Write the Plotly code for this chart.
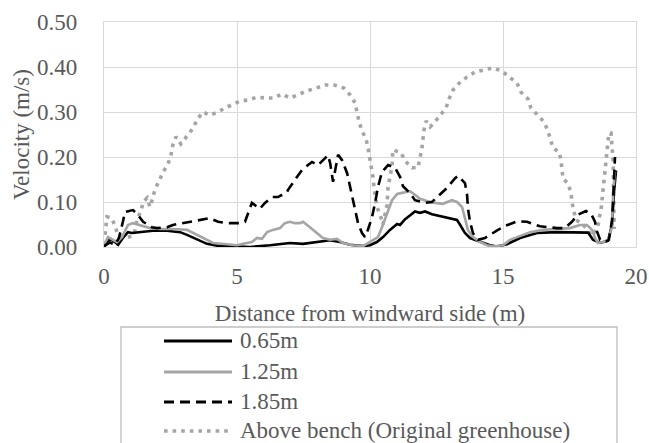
import plotly.graph_objects as go

# ---------------- data ----------------
x_065 = [0.0, 0.23, 0.41, 0.53, 0.71, 0.90, 1.05, 1.35, 1.84, 2.37, 2.86, 3.12, 3.50, 3.87, 4.25, 5.0,
         5.49, 6.24, 6.99, 7.48, 8.01, 8.50, 8.87, 9.25, 9.74, 10.0, 10.26, 10.49, 10.75, 11.02, 11.13,
         11.32, 11.50, 11.69, 11.88, 12.07, 12.33, 12.63, 13.01, 13.27, 13.38, 13.57, 13.76, 14.14,
         14.51, 14.77, 15.15, 15.64, 16.28, 17.03, 17.63, 18.20, 18.38, 18.65, 18.95, 19.10, 19.17, 19.25]
v_065 = [0.0, 0.018, 0.011, 0.005, 0.02, 0.033, 0.031, 0.033, 0.036, 0.036, 0.033, 0.027, 0.016, 0.007, 0.003, 0.001,
         0.0, 0.004, 0.009, 0.007, 0.011, 0.015, 0.011, 0.005, 0.002, 0.004, 0.011, 0.022, 0.038, 0.051, 0.049,
         0.062, 0.07, 0.079, 0.076, 0.079, 0.073, 0.069, 0.065, 0.06, 0.05, 0.031, 0.02, 0.011,
         0.004, 0.001, 0.006, 0.02, 0.031, 0.033, 0.033, 0.032, 0.016, 0.009, 0.014, 0.05, 0.12, 0.17]

x_125 = [0.0, 0.15, 0.34, 0.49, 0.68, 0.90, 1.09, 1.35, 1.73, 2.11, 2.59, 3.12, 3.50, 3.87, 4.10, 4.62, 5.0,
         5.23, 5.56, 5.75, 5.94, 6.13, 6.35, 6.62, 6.80, 6.99, 7.18, 7.37, 7.48, 7.74, 8.01, 8.23, 8.50,
         8.76, 8.98, 9.36, 9.74, 10.11, 10.30, 10.45, 10.64, 10.83, 11.02, 11.24, 11.50, 11.69, 11.88,
         12.14, 12.44, 12.74, 13.08, 13.27, 13.46, 13.57, 13.68, 13.87, 14.14, 14.40, 14.62, 15.0, 15.26,
         15.53, 16.02, 16.50, 17.03, 17.52, 17.89, 18.16, 18.35, 18.46, 18.57, 18.76, 18.95, 19.10, 19.14, 19.21]
v_125 = [0.005, 0.022, 0.016, 0.011, 0.022, 0.049, 0.053, 0.049, 0.042, 0.04, 0.04, 0.038, 0.027, 0.016, 0.009, 0.006, 0.004,
         0.007, 0.011, 0.02, 0.018, 0.033, 0.038, 0.042, 0.053, 0.056, 0.053, 0.053, 0.056, 0.044, 0.031, 0.02, 0.016,
         0.018, 0.009, 0.004, 0.002, 0.016, 0.022, 0.044, 0.076, 0.104, 0.118, 0.12, 0.124, 0.116, 0.107,
         0.102, 0.098, 0.096, 0.104, 0.1, 0.089, 0.064, 0.038, 0.022, 0.011, 0.004, 0.001, 0.004, 0.016,
         0.022, 0.033, 0.038, 0.04, 0.042, 0.049, 0.049, 0.038, 0.02, 0.009, 0.011, 0.016, 0.044, 0.12, 0.168]

x_185 = [0.0, 0.23, 0.41, 0.56, 0.71, 0.79, 1.09, 1.28, 1.47, 1.80, 1.99, 2.37, 2.59, 2.97, 3.35, 3.72, 3.98,
         4.29, 4.62, 5.11, 5.30, 5.49, 5.56, 5.86, 6.05, 6.32, 6.54, 6.88, 6.92, 7.26, 7.44, 7.67, 7.82,
         8.05, 8.23, 8.42, 8.50, 8.61, 8.80, 8.95, 9.14, 9.25, 9.36, 9.44, 9.55, 9.70, 9.81, 9.92, 10.08,
         10.19, 10.30, 10.45, 10.68, 10.94, 11.13, 11.24, 11.50, 11.69, 12.07, 12.33, 12.63, 12.89, 13.20,
         13.31, 13.57, 13.65, 13.68, 13.76, 13.87, 14.06, 14.32, 14.59, 14.81, 15.08, 15.53, 15.90, 16.39,
         17.03, 17.33, 17.59, 17.82, 18.12, 18.31, 18.46, 18.53, 18.65, 18.83, 18.98, 19.10, 19.14, 19.17, 19.21]
v_185 = [0.002, 0.01, 0.005, 0.02, 0.056, 0.078, 0.082, 0.071, 0.056, 0.044, 0.042, 0.044, 0.049, 0.053, 0.056, 0.06, 0.064,
         0.056, 0.053, 0.053, 0.056, 0.087, 0.098, 0.085, 0.098, 0.111, 0.111, 0.122, 0.127, 0.156, 0.171, 0.182, 0.189,
         0.182, 0.193, 0.204, 0.187, 0.145, 0.205, 0.193, 0.164, 0.133, 0.104, 0.082, 0.053, 0.031, 0.022, 0.038, 0.067,
         0.098, 0.133, 0.167, 0.182, 0.176, 0.156, 0.135, 0.12, 0.104, 0.098, 0.10, 0.116, 0.131, 0.153,
         0.158, 0.142, 0.116, 0.087, 0.056, 0.031, 0.016, 0.02, 0.031, 0.038, 0.047, 0.057, 0.056, 0.046,
         0.042, 0.042, 0.056, 0.072, 0.08, 0.074, 0.056, 0.035, 0.016, 0.011, 0.016, 0.06, 0.104, 0.164, 0.20]

x_bench = [0.04, 0.11, 0.30, 0.41, 0.53, 0.80, 1.10, 1.17, 1.24, 1.39, 1.47, 1.62, 1.73, 1.92, 2.07, 2.22, 2.41,
           2.52, 2.59, 2.71, 2.89, 3.12, 3.35, 3.50, 3.72, 3.98, 4.29, 4.55, 4.85, 5.11, 5.45, 5.75, 6.09,
           6.39, 6.69, 6.99, 7.29, 7.63, 7.97, 8.31, 8.65, 9.02, 9.25, 9.44, 9.51, 9.59, 9.70, 9.85, 9.92,
           10.0, 10.08, 10.11, 10.15, 10.19, 10.26, 10.38, 10.49, 10.56, 10.64, 10.68, 10.75, 10.83, 10.86,
           11.17, 11.32, 11.58, 11.80, 11.88, 11.95, 11.99, 12.03, 12.11, 12.26, 12.41, 12.63, 12.86, 12.97,
           13.12, 13.35, 13.65, 13.95, 14.29, 14.62, 14.96, 15.26, 15.53, 15.68, 15.94, 16.05, 16.28, 16.54,
           16.69, 16.77, 16.88, 17.11, 17.18, 17.22, 17.26, 17.44, 17.56, 17.59, 17.67, 17.74, 17.97, 18.08,
           18.35, 18.57, 18.61, 18.68, 18.72, 18.76, 18.80, 18.83, 18.87, 18.91, 18.95, 18.98, 19.06, 19.10,
           19.14, 19.15, 19.17, 19.18]
v_bench = [0.027, 0.067, 0.064, 0.044, 0.027, 0.02, 0.025, 0.038, 0.06, 0.08, 0.10, 0.109, 0.089, 0.128, 0.147, 0.166, 0.185,
           0.205, 0.227, 0.245, 0.229, 0.245, 0.264, 0.283, 0.30, 0.293, 0.30, 0.309, 0.318, 0.324, 0.327, 0.333, 0.331,
           0.331, 0.340, 0.331, 0.338, 0.347, 0.353, 0.36, 0.36, 0.353, 0.338, 0.320, 0.30, 0.278, 0.258, 0.240, 0.222,
           0.198, 0.175, 0.156, 0.133, 0.111, 0.089, 0.071, 0.05, 0.071, 0.093, 0.133, 0.158, 0.18, 0.216,
           0.209, 0.191, 0.176, 0.176, 0.198, 0.218, 0.24, 0.26, 0.28, 0.267, 0.276, 0.291, 0.309, 0.329,
           0.349, 0.364, 0.378, 0.389, 0.393, 0.398, 0.391, 0.378, 0.364, 0.344, 0.329, 0.309, 0.293, 0.278,
           0.258, 0.24, 0.22, 0.211, 0.193, 0.171, 0.151, 0.142, 0.12, 0.10, 0.078, 0.06, 0.053, 0.044,
           0.025, 0.044, 0.064, 0.08, 0.104, 0.127, 0.147, 0.169, 0.191, 0.211, 0.231, 0.253, 0.253, 0.231,
           0.191, 0.147, 0.104, 0.04]

series_names = ["0.65m", "1.25m", "1.85m", "Above bench (Original greenhouse)"]
x_ticks = [0, 5, 10, 15, 20]
y_ticks = [0.0, 0.1, 0.2, 0.3, 0.4, 0.5]

# ---------------- styles ----------------
FONT = "Liberation Serif"
FS = 23
TXT = "#595959"
GRID = "#D9D9D9"
BLACK = "#000000"
GRAY = "#A5A5A5"
styles = [
    dict(color=BLACK, width=2.6, dash="solid"),
    dict(color=GRAY, width=2.6, dash="solid"),
    dict(color=BLACK, width=2.6, dash="10px,6px"),
    dict(color=GRAY, width=3.6, dash="3.6px,5px"),
]
legend_widths = [3.0, 3.0, 3.0, 3.6]
data = [(x_065, v_065), (x_125, v_125), (x_185, v_185), (x_bench, v_bench)]

fig = go.Figure()
# dotted series beneath, then the others
for idx in [3, 0, 1, 2]:
    xs, vs = data[idx]
    fig.add_trace(go.Scatter(x=xs, y=vs, mode="lines", name=series_names[idx],
                             line=styles[idx], showlegend=False, hoverinfo="skip"))

tfont = dict(family=FONT, size=FS, color=TXT)
fig.update_layout(
    width=649, height=443,
    margin=dict(l=104, r=13, t=22, b=196, autoexpand=False),
    paper_bgcolor="white", plot_bgcolor="white",
    font=tfont,
)
fig.update_xaxes(
    range=[0, 20], tickvals=x_ticks, ticktext=[str(t) for t in x_ticks],
    showgrid=True, gridcolor=GRID, gridwidth=1.3, zeroline=False,
    showline=True, linecolor=GRID, linewidth=1.3, mirror=True,
    ticks="", ticklabelstandoff=8, automargin=False,
    tickfont=tfont,
    title=dict(text="Distance from windward side (m)", standoff=17, font=tfont),
)
fig.update_yaxes(
    range=[0, 0.5], tickvals=y_ticks, ticktext=[f"{t:.2f}" for t in y_ticks],
    showgrid=True, gridcolor=GRID, gridwidth=1.3, zeroline=False,
    showline=True, linecolor=GRID, linewidth=1.3, mirror=True,
    ticks="", ticklabelstandoff=21, automargin=False,
    tickfont=tfont,
    title=dict(text="Velocity (m/s)", standoff=0, font=tfont),
)

# ---------------- legend box ----------------
W_PLOT, H_PLOT, L, T = 532, 225, 104, 22
def px_x(p):
    return (p - L) / W_PLOT
def px_y(p):
    return (T + H_PLOT - p) / H_PLOT

fig.add_shape(type="rect", xref="paper", yref="paper",
              x0=px_x(121), x1=px_x(617), y0=px_y(470), y1=px_y(327),
              line=dict(color="#BFBFBF", width=1.3), fillcolor="white", layer="above")
legend_rows = [340, 371, 401, 430]
for name, st, lw, yrow in zip(series_names, styles, legend_widths, legend_rows):
    fig.add_shape(type="line", xref="paper", yref="paper",
                  x0=px_x(164), x1=px_x(232), y0=px_y(yrow + 1), y1=px_y(yrow + 1),
                  line=dict(color=st["color"], width=lw, dash=st["dash"]), layer="above")
    fig.add_annotation(text=name, xref="paper", yref="paper", x=px_x(238), y=px_y(yrow),
                       xanchor="left", yanchor="middle", showarrow=False, font=tfont)

fig.write_html("out.html")
